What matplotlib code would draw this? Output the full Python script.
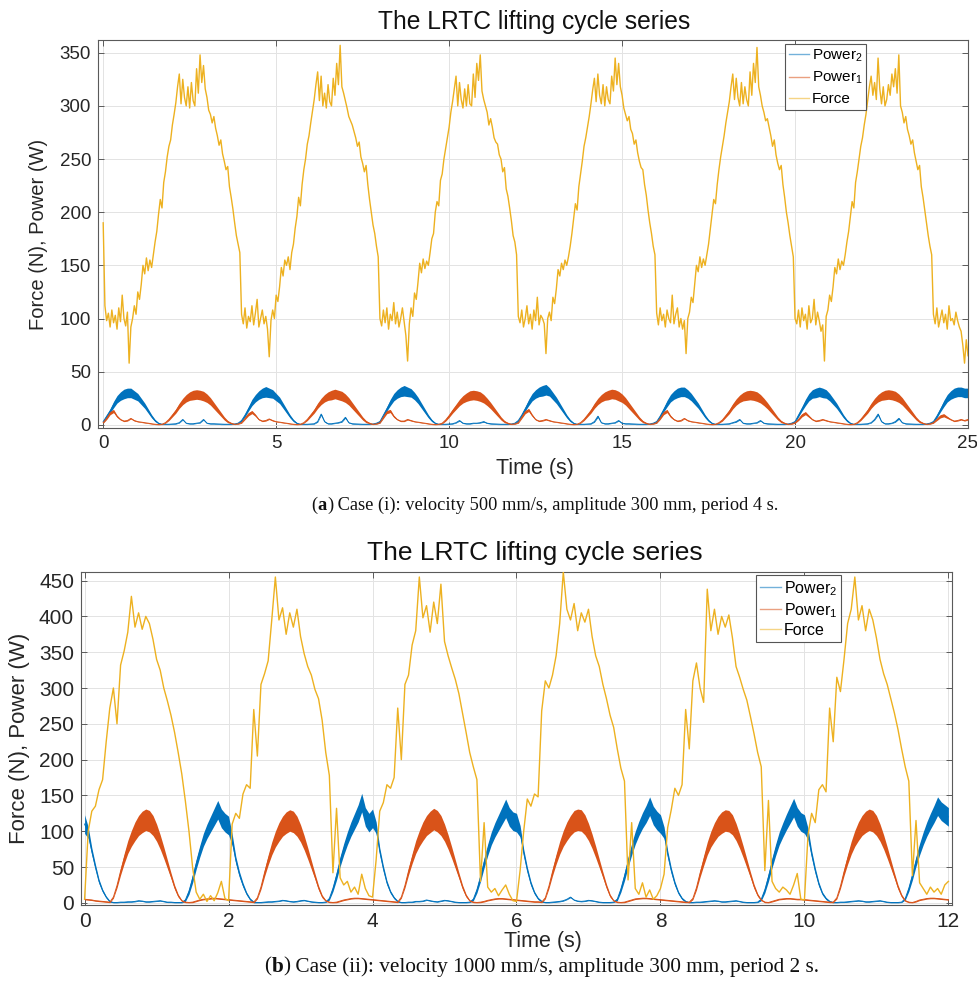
import numpy as np
import matplotlib
matplotlib.use('Agg')
import matplotlib.pyplot as plt
from matplotlib.lines import Line2D

plt.rcParams['font.family'] = ['Liberation Sans', 'DejaVu Sans']
plt.rcParams['mathtext.fontset'] = 'custom'
plt.rcParams['mathtext.rm'] = 'Liberation Sans'
plt.rcParams['mathtext.it'] = 'Liberation Sans'
plt.rcParams['mathtext.default'] = 'regular'

# ---------------- DATA ----------------
title_text = 'The LRTC lifting cycle series'
ylabel_text = 'Force (N), Power (W)'
xlabel_text = 'Time (s)'
legend_labels = ['Power$_2$', 'Power$_1$', 'Force']
caption_a = ('a', 'Case (i): velocity 500 mm/s, amplitude 300 mm, period 4 s.')
caption_b = ('b', 'Case (ii): velocity 1000 mm/s, amplitude 300 mm, period 2 s.')

xticks_a = [0, 5, 10, 15, 20, 25]
yticks_a = [0, 50, 100, 150, 200, 250, 300, 350]
xticks_b = [0, 2, 4, 6, 8, 10, 12]
yticks_b = [0, 50, 100, 150, 200, 250, 300, 350, 400, 450]

# Panel (a): force sampled every 0.05 s from 0 to 25 s
force_a = [
    190, 112, 98, 105, 92, 108, 96, 103, 90, 110, 97, 122, 100, 93, 106, 58, 92, 100, 112, 104, 125, 118,
    132, 150, 142, 157, 145, 155, 148, 160, 172, 182, 198, 212, 204, 228, 238, 252, 262, 268, 282, 292, 303, 318,
    330, 302, 325, 308, 300, 318, 298, 322, 305, 300, 335, 312, 348, 322, 338, 316, 308,
    296, 292, 284, 290, 279, 272, 263, 268, 255, 248, 240, 243, 224, 214, 203, 190, 178, 170, 162,
    104, 95, 110, 91, 102, 97, 112, 94, 105, 118, 92, 100, 108, 95, 102, 90, 64, 98, 108, 100, 122, 116,
    130, 148, 140, 155, 150, 158, 146, 162, 170, 185, 196, 214, 206, 226, 240, 250, 264, 272, 284, 295, 306, 320,
    332, 305, 328, 300, 312, 298, 320, 304, 300, 326, 310, 340, 320, 357, 318, 312, 305,
    298, 290, 286, 282, 276, 270, 262, 266, 252, 246, 238, 244, 226, 212, 200, 188, 180, 168, 158,
    100, 93, 108, 96, 110, 90, 104, 98, 115, 95, 106, 92, 100, 110, 97, 84, 60, 95, 110, 102, 124, 118,
    134, 152, 143, 156, 147, 154, 150, 162, 175, 180, 200, 210, 206, 230, 236, 250, 260, 270, 280, 294, 304, 316,
    328, 300, 322, 306, 298, 316, 300, 320, 302, 300, 330, 308, 340, 324, 348, 314, 306,
    300, 294, 282, 288, 280, 270, 266, 264, 254, 250, 238, 242, 222, 215, 204, 192, 178, 172, 160,
    102, 96, 108, 92, 100, 112, 95, 104, 90, 108, 98, 120, 94, 103, 100, 95, 67, 100, 106, 98, 120, 114,
    128, 146, 140, 152, 146, 155, 150, 158, 168, 180, 194, 208, 202, 224, 236, 248, 262, 270, 280, 290, 302, 315,
    326, 304, 330, 310, 302, 320, 300, 318, 306, 302, 328, 314, 345, 320, 340, 318, 310,
    298, 292, 286, 290, 278, 274, 264, 268, 256, 248, 242, 240, 226, 216, 202, 190, 180, 168, 160,
    105, 94, 110, 98, 104, 92, 108, 100, 96, 122, 95, 104, 110, 92, 100, 90, 98, 67, 100, 106, 120, 115,
    132, 150, 144, 158, 148, 156, 150, 160, 170, 184, 198, 212, 208, 226, 240, 252, 262, 272, 284, 294, 304, 318,
    330, 306, 326, 308, 300, 322, 302, 318, 306, 300, 332, 310, 340, 322, 355, 318, 310,
    300, 294, 286, 288, 280, 272, 262, 268, 254, 246, 240, 244, 226, 214, 200, 190, 178, 168, 158,
    100, 95, 108, 92, 110, 98, 104, 90, 112, 96, 100, 118, 94, 106, 98, 88, 94, 60, 102, 108, 122, 116,
    130, 148, 142, 156, 146, 154, 150, 160, 172, 182, 196, 210, 204, 228, 238, 250, 262, 270, 282, 292, 305, 318,
    328, 310, 322, 306, 345, 316, 302, 318, 300, 306, 320, 310, 330, 318, 335, 312, 348,
    300, 294, 284, 290, 278, 272, 264, 268, 256, 248, 240, 244, 224, 214, 202, 190, 178, 168, 160,
    104, 95, 110, 92, 100, 108, 96, 104, 90, 112, 98, 100, 94, 106, 98, 92, 88, 75, 58, 80, 65,
]

# Panel (a): powers sampled every 0.1 s (centre value and noise half-width)
power2_a = [
    3, 8, 13, 19, 24, 27, 29, 30, 30, 28, 26, 22, 18, 13, 8, 4, 1.5, 0.5, 0.5, 0.5,
    0.8, 1, 2, 5, 1.5, 1, 1, 1.5, 2, 5, 1.5, 1, 1, 0.8, 0.5, 0.5, 0.5, 0.5, 0.8, 1.5,
    4, 9, 15, 21, 25, 28, 30, 31, 30, 29, 26, 23, 18, 13, 8, 4, 1.5, 0.5, 0.5, 0.5,
    0.8, 1, 3, 10, 3, 1, 1, 1.5, 2, 3, 7, 2, 1, 0.8, 0.5, 0.5, 0.5, 0.5, 0.8, 1.5,
    3, 9, 15, 21, 26, 29, 31, 32, 31, 30, 27, 23, 18, 13, 8, 4, 1.5, 0.5, 0.5, 0.5,
    0.8, 1, 2, 4, 1.5, 1, 1, 1.5, 1.5, 2, 3, 1.5, 1, 0.8, 0.5, 0.5, 0.5, 0.5, 0.8, 1.5,
    4, 9, 15, 21, 26, 29, 31, 32, 33, 31, 27, 23, 18, 13, 8, 4, 1.5, 0.5, 0.5, 0.5,
    0.8, 1, 3, 8, 2, 1, 1, 1.5, 2, 4, 1.5, 1, 1, 0.8, 0.5, 0.5, 0.5, 0.5, 0.8, 1.5,
    3, 8, 14, 20, 25, 28, 30, 31, 31, 29, 26, 22, 18, 13, 8, 4, 1.5, 0.5, 0.5, 0.5,
    0.8, 1, 2, 3, 5, 1.5, 1, 1, 1.5, 2, 4, 1.5, 1, 0.8, 0.5, 0.5, 0.5, 0.5, 0.8, 1.5,
    3, 9, 15, 21, 26, 29, 30, 31, 30, 29, 26, 22, 18, 13, 8, 4, 1.5, 0.5, 0.5, 0.5,
    0.8, 1, 2, 5, 10, 3, 1, 1, 1.5, 3, 6, 2, 1, 0.8, 0.5, 0.5, 0.5, 0.5, 0.8, 1.5,
    3, 8, 14, 20, 25, 28, 30, 31, 31, 30, 30,
]
power2_a_noise = [
    1, 1.5, 2, 3, 3.5, 4, 4.5, 4.5, 4.5, 4, 3.5, 3, 2.5, 2, 1.5, 1, 0.5, 0.3, 0.3, 0.3,
    0.3, 0.3, 0.3, 0.5, 0.3, 0.3, 0.3, 0.3, 0.3, 0.5, 0.3, 0.3, 0.3, 0.3, 0.3, 0.3, 0.3, 0.3, 0.3, 0.5,
    1, 1.5, 2, 3, 3.5, 4, 4.5, 5, 4.5, 4, 3.5, 3, 2.5, 2, 1.5, 1, 0.5, 0.3, 0.3, 0.3,
    0.3, 0.3, 0.5, 1, 0.5, 0.3, 0.3, 0.3, 0.3, 0.5, 0.8, 0.3, 0.3, 0.3, 0.3, 0.3, 0.3, 0.3, 0.3, 0.5,
    1, 1.5, 2, 3, 3.5, 4, 4.5, 5, 4.5, 4, 3.5, 3, 2.5, 2, 1.5, 1, 0.5, 0.3, 0.3, 0.3,
    0.3, 0.3, 0.3, 0.5, 0.3, 0.3, 0.3, 0.3, 0.3, 0.3, 0.5, 0.3, 0.3, 0.3, 0.3, 0.3, 0.3, 0.3, 0.3, 0.5,
    1, 1.5, 2, 3, 3.5, 4, 4.5, 5, 5, 4, 3.5, 3, 2.5, 2, 1.5, 1, 0.5, 0.3, 0.3, 0.3,
    0.3, 0.3, 0.5, 1, 0.3, 0.3, 0.3, 0.3, 0.3, 0.5, 0.3, 0.3, 0.3, 0.3, 0.3, 0.3, 0.3, 0.3, 0.3, 0.5,
    1, 1.5, 2, 3, 3.5, 4, 4.5, 4.5, 4.5, 4, 3.5, 3, 2.5, 2, 1.5, 1, 0.5, 0.3, 0.3, 0.3,
    0.3, 0.3, 0.3, 0.5, 0.5, 0.3, 0.3, 0.3, 0.3, 0.3, 0.5, 0.3, 0.3, 0.3, 0.3, 0.3, 0.3, 0.3, 0.3, 0.5,
    1, 1.5, 2, 3, 3.5, 4, 4.5, 4.5, 4.5, 4, 3.5, 3, 2.5, 2, 1.5, 1, 0.5, 0.3, 0.3, 0.3,
    0.3, 0.3, 0.3, 0.5, 1, 0.5, 0.3, 0.3, 0.3, 0.5, 0.8, 0.3, 0.3, 0.3, 0.3, 0.3, 0.3, 0.3, 0.3, 0.5,
    1, 1.5, 2, 3, 3.5, 4, 4.5, 4.5, 4.5, 4.5, 4.5,
]
power1_a = [
    2, 6, 11, 13, 8, 5, 3.5, 4, 6, 4, 3, 2.5, 2, 1.5, 1, 0.5, 0.3, 0.5, 2, 5,
    9, 13, 18, 22, 25, 27, 28, 28.5, 28, 27, 25, 22, 18, 14, 10, 6, 3, 1.5, 0.5, 0.8,
    2, 6, 10, 12, 9, 5, 3.5, 4, 5.5, 4, 3, 2.5, 2, 1.5, 1, 0.5, 0.3, 0.5, 2, 5,
    9, 13, 18, 22, 25, 27, 28, 29, 28, 27, 25, 22, 18, 14, 10, 6, 3, 1.5, 0.5, 0.8,
    2, 7, 12, 13, 8, 5, 3.5, 3.5, 5, 4, 3, 2.5, 2, 1.5, 1, 0.5, 0.3, 0.5, 1.5, 4.5,
    8.5, 13, 17, 21, 24, 26, 27.5, 28, 27.5, 26.5, 24.5, 21.5, 18, 14, 10, 6, 3, 1.5, 0.5, 0.8,
    2, 7, 12, 14, 9, 5, 3.5, 4, 5, 4, 3, 2.5, 2, 1.5, 1, 0.5, 0.3, 0.5, 2, 5,
    9, 13, 18, 22, 25, 27, 28, 29, 28.5, 27, 25, 22, 18, 14, 10, 6, 3, 1.5, 0.5, 0.8,
    2, 6, 11, 13, 8, 5, 3.5, 4, 6, 4, 3, 2.5, 2, 1.5, 1, 0.5, 0.3, 0.5, 2, 4.5,
    8.5, 12.5, 17.5, 21.5, 24.5, 26.5, 27.5, 28, 27.5, 26.5, 24.5, 21.5, 18, 14, 10, 6, 3, 1.5, 0.5, 0.8,
    2, 5, 9, 11, 8, 5, 3.5, 4, 5, 4, 3, 2.5, 2, 1.5, 1, 0.5, 0.3, 0.5, 2, 5,
    9, 13, 18, 22, 25, 27, 28, 28.5, 28, 27, 25, 22, 18, 14, 10, 6, 3, 1.5, 0.5, 0.8,
    2, 5, 8, 9, 7, 5, 3.5, 4, 5, 4, 5,
]
power1_a_noise = [
    0.5, 1, 1.5, 1.5, 1, 0.5, 0.5, 0.5, 0.5, 0.5, 0.3, 0.3, 0.3, 0.3, 0.3, 0.3, 0.3, 0.3, 0.5, 1,
    1.5, 2, 2.5, 3, 3.5, 4, 4.5, 4.5, 4.5, 4.5, 4, 3.5, 3, 2.5, 2, 1.5, 1, 0.5, 0.3, 0.3,
    0.5, 1, 1.5, 1.5, 1, 0.5, 0.5, 0.5, 0.5, 0.5, 0.3, 0.3, 0.3, 0.3, 0.3, 0.3, 0.3, 0.3, 0.5, 1,
    1.5, 2, 2.5, 3, 3.5, 4, 4.5, 4.5, 4.5, 4.5, 4, 3.5, 3, 2.5, 2, 1.5, 1, 0.5, 0.3, 0.3,
    0.5, 1, 1.5, 1.5, 1, 0.5, 0.5, 0.5, 0.5, 0.5, 0.3, 0.3, 0.3, 0.3, 0.3, 0.3, 0.3, 0.3, 0.5, 1,
    1.5, 2, 2.5, 3, 3.5, 4, 4.5, 4.5, 4.5, 4.5, 4, 3.5, 3, 2.5, 2, 1.5, 1, 0.5, 0.3, 0.3,
    0.5, 1, 1.5, 1.5, 1, 0.5, 0.5, 0.5, 0.5, 0.5, 0.3, 0.3, 0.3, 0.3, 0.3, 0.3, 0.3, 0.3, 0.5, 1,
    1.5, 2, 2.5, 3, 3.5, 4, 4.5, 4.5, 4.5, 4.5, 4, 3.5, 3, 2.5, 2, 1.5, 1, 0.5, 0.3, 0.3,
    0.5, 1, 1.5, 1.5, 1, 0.5, 0.5, 0.5, 0.5, 0.5, 0.3, 0.3, 0.3, 0.3, 0.3, 0.3, 0.3, 0.3, 0.5, 1,
    1.5, 2, 2.5, 3, 3.5, 4, 4.5, 4.5, 4.5, 4.5, 4, 3.5, 3, 2.5, 2, 1.5, 1, 0.5, 0.3, 0.3,
    0.5, 1, 1.5, 1.5, 1, 0.5, 0.5, 0.5, 0.5, 0.5, 0.3, 0.3, 0.3, 0.3, 0.3, 0.3, 0.3, 0.3, 0.5, 1,
    1.5, 2, 2.5, 3, 3.5, 4, 4.5, 4.5, 4.5, 4.5, 4, 3.5, 3, 2.5, 2, 1.5, 1, 0.5, 0.3, 0.3,
    0.5, 1, 1.5, 1.5, 1, 0.5, 0.5, 0.5, 0.5, 0.5, 0.5,
]

# Panel (b): all series sampled every 0.05 s from 0 to 12 s
force_b = [
    5, 100, 128, 135, 158, 172, 225, 272, 300, 250, 332, 352, 378, 428, 385, 405, 382, 400, 390, 368,
    340, 325, 300, 282, 262, 238, 210, 180, 142, 100, 50, 15, 5, 12, 2, 10, 3, 14, 30, 6,
    3, 110, 125, 118, 152, 165, 160, 270, 205, 305, 320, 338, 395, 455, 395, 412, 375, 405, 385, 410,
    372, 348, 330, 318, 298, 285, 255, 210, 178, 42, 132, 35, 25, 30, 15, 22, 12, 40, 20, 10,
    8, 60, 128, 140, 165, 160, 175, 272, 200, 305, 318, 360, 380, 455, 398, 415, 378, 420, 390, 445,
    365, 345, 328, 312, 292, 265, 238, 210, 190, 172, 30, 112, 22, 15, 20, 10, 18, 25, 12, 3,
    2, 45, 100, 145, 135, 152, 148, 268, 310, 300, 318, 345, 390, 462, 410, 395, 418, 380, 405, 392,
    410, 372, 345, 330, 305, 285, 262, 245, 215, 188, 170, 32, 112, 20, 12, 28, 8, 18, 5, 10,
    20, 40, 105, 130, 160, 150, 165, 270, 215, 310, 335, 300, 280, 438, 380, 410, 375, 400, 385, 402,
    370, 330, 315, 298, 283, 260, 236, 210, 190, 45, 143, 30, 20, 15, 22, 18, 12, 25, 41, 5,
    4, 95, 125, 112, 158, 165, 155, 272, 225, 315, 295, 340, 390, 410, 455, 395, 415, 380, 410, 395,
    370, 340, 320, 305, 285, 265, 242, 215, 190, 170, 38, 115, 28, 20, 12, 22, 15, 20, 12, 25,
    30,
]
power2_b = [
    110, 98, 72, 50, 30, 17, 8, 2, 0.5, 0.5, 1, 1, 1.5, 1.5, 2, 3, 2.5, 1.5, 1.5, 2,
    2.5, 3, 2, 1, 1, 0.5, 0.5, 0.5, 4, 16, 34, 54, 72, 88, 100, 110, 120, 130, 118, 112,
    108, 88, 60, 40, 25, 13, 5, 1, 0.5, 0.5, 1, 1.5, 1.5, 2, 2.5, 3.5, 3, 2, 1.5, 2,
    3, 3.5, 2.5, 1.5, 1, 0.5, 0.5, 1, 6, 20, 38, 58, 75, 90, 103, 114, 125, 140, 120, 112,
    118, 105, 72, 48, 28, 15, 7, 2, 0.5, 0.5, 1, 1, 2, 2, 2.5, 4, 3, 2, 1.5, 2.5,
    3.5, 3, 2, 1, 0.5, 0.5, 0.5, 1, 5, 18, 36, 56, 74, 90, 102, 112, 122, 132, 120, 114,
    112, 100, 70, 46, 27, 14, 6, 2, 0.5, 0.5, 1, 1.5, 2, 3, 5, 8, 4, 2.5, 2, 2.5,
    3.5, 3, 2, 1, 0.5, 0.5, 0.5, 1, 5, 19, 37, 57, 75, 91, 104, 115, 124, 135, 122, 115,
    110, 98, 68, 45, 27, 14, 6, 2, 0.5, 0.5, 1, 1, 1.5, 2, 2.5, 3, 2.5, 1.5, 1.5, 2,
    2.5, 3, 2, 1, 0.5, 0.5, 0.5, 1, 5, 18, 36, 56, 74, 90, 102, 113, 123, 133, 120, 113,
    110, 96, 68, 45, 26, 13, 6, 2, 0.5, 0.5, 1, 1, 1.5, 2, 2.5, 3, 2.5, 1.5, 1.5, 2,
    2.5, 3, 2, 1, 0.5, 0.5, 0.5, 1, 6, 20, 38, 58, 75, 90, 103, 114, 124, 135, 128, 124,
    120,
]
power2_b_noise = [
    13, 8, 5, 4, 3, 2, 1.5, 1, 0.6, 0.6, 0.6, 0.6, 0.6, 0.6, 0.6, 0.6, 0.6, 0.6, 0.6, 0.6,
    0.6, 0.6, 0.6, 0.6, 0.6, 0.6, 0.6, 0.6, 2, 4, 6, 7, 8, 9, 10, 11, 12, 13, 13, 13,
    13, 8, 5, 4, 3, 2, 1.5, 1, 0.6, 0.6, 0.6, 0.6, 0.6, 0.6, 0.6, 0.6, 0.6, 0.6, 0.6, 0.6,
    0.6, 0.6, 0.6, 0.6, 0.6, 0.6, 0.6, 0.6, 2, 4, 6, 7, 8, 9, 10, 11, 12, 13, 13, 13,
    13, 8, 5, 4, 3, 2, 1.5, 1, 0.6, 0.6, 0.6, 0.6, 0.6, 0.6, 0.6, 0.6, 0.6, 0.6, 0.6, 0.6,
    0.6, 0.6, 0.6, 0.6, 0.6, 0.6, 0.6, 0.6, 2, 4, 6, 7, 8, 9, 10, 11, 12, 13, 13, 13,
    13, 8, 5, 4, 3, 2, 1.5, 1, 0.6, 0.6, 0.6, 0.6, 0.6, 0.6, 0.6, 0.8, 0.6, 0.6, 0.6, 0.6,
    0.6, 0.6, 0.6, 0.6, 0.6, 0.6, 0.6, 0.6, 2, 4, 6, 7, 8, 9, 10, 11, 12, 13, 13, 13,
    13, 8, 5, 4, 3, 2, 1.5, 1, 0.6, 0.6, 0.6, 0.6, 0.6, 0.6, 0.6, 0.6, 0.6, 0.6, 0.6, 0.6,
    0.6, 0.6, 0.6, 0.6, 0.6, 0.6, 0.6, 0.6, 2, 4, 6, 7, 8, 9, 10, 11, 12, 13, 13, 13,
    13, 8, 5, 4, 3, 2, 1.5, 1, 0.6, 0.6, 0.6, 0.6, 0.6, 0.6, 0.6, 0.6, 0.6, 0.6, 0.6, 0.6,
    0.6, 0.6, 0.6, 0.6, 0.6, 0.6, 0.6, 0.6, 2, 4, 6, 7, 8, 9, 10, 11, 12, 13, 13, 13,
    13,
]
power1_b = [
    5, 4.5, 4, 3, 2.5, 2, 1.5, 1, 8, 24, 44, 62, 78, 90, 100, 108, 113, 116, 114, 108,
    98, 85, 70, 54, 38, 22, 10, 3, 1, 0.5, 1, 2.5, 4, 5, 5.5, 6, 6.5, 6, 5.5, 5,
    4.5, 4, 3.5, 3, 2.5, 2, 1.5, 1, 7, 22, 42, 60, 76, 89, 99, 107, 112, 115, 113, 107,
    97, 84, 69, 53, 37, 21, 9, 3, 1, 0.5, 1, 2.5, 4, 5, 6, 6.5, 6.5, 6, 5.5, 5,
    4.5, 4, 3.5, 3, 2.5, 2, 1.5, 1, 8, 24, 44, 62, 78, 90, 100, 108, 113, 117, 114, 108,
    98, 85, 70, 54, 38, 22, 10, 3, 1, 0.5, 1, 2, 3.5, 4.5, 5.5, 6, 6, 5.5, 5, 4.5,
    4, 3.5, 3, 2.5, 2, 1.5, 1.5, 1, 7, 23, 43, 61, 77, 90, 100, 108, 114, 116, 115, 109,
    99, 86, 71, 55, 39, 23, 10, 3, 1, 0.5, 1, 2.5, 4, 5.5, 6, 6.5, 6.5, 6, 5.5, 5,
    4.5, 4, 3.5, 3, 2.5, 2, 1.5, 1, 1, 6, 21, 41, 59, 76, 89, 99, 107, 112, 115, 114,
    109, 99, 86, 71, 55, 39, 23, 11, 4, 1, 0.5, 2, 3.5, 5, 5.5, 6, 6, 5.5, 5, 5,
    4.5, 4, 3.5, 3, 2.5, 2, 1.5, 1, 1, 7, 23, 43, 61, 77, 90, 100, 108, 113, 116, 114,
    108, 98, 85, 70, 54, 38, 22, 10, 3, 1, 0.5, 2, 4, 5, 6, 6.5, 6.5, 6, 5.5, 5,
    4.5,
]
power1_b_noise = [
    0.8, 0.8, 0.8, 0.8, 0.8, 0.8, 0.8, 0.8, 1.5, 3, 5, 7, 9, 11, 13, 14, 15, 15, 15, 14,
    12, 10, 8, 6, 4, 3, 2, 1, 0.8, 0.8, 0.8, 0.8, 0.8, 0.8, 0.8, 0.8, 0.8, 0.8, 0.8, 0.8,
    0.8, 0.8, 0.8, 0.8, 0.8, 0.8, 0.8, 0.8, 1.5, 3, 5, 7, 9, 11, 13, 14, 15, 15, 15, 14,
    12, 10, 8, 6, 4, 3, 2, 1, 0.8, 0.8, 0.8, 0.8, 0.8, 0.8, 0.8, 0.8, 0.8, 0.8, 0.8, 0.8,
    0.8, 0.8, 0.8, 0.8, 0.8, 0.8, 0.8, 0.8, 1.5, 3, 5, 7, 9, 11, 13, 14, 15, 15, 15, 14,
    12, 10, 8, 6, 4, 3, 2, 1, 0.8, 0.8, 0.8, 0.8, 0.8, 0.8, 0.8, 0.8, 0.8, 0.8, 0.8, 0.8,
    0.8, 0.8, 0.8, 0.8, 0.8, 0.8, 0.8, 0.8, 1.5, 3, 5, 7, 9, 11, 13, 14, 15, 15, 15, 14,
    12, 10, 8, 6, 4, 3, 2, 1, 0.8, 0.8, 0.8, 0.8, 0.8, 0.8, 0.8, 0.8, 0.8, 0.8, 0.8, 0.8,
    0.8, 0.8, 0.8, 0.8, 0.8, 0.8, 0.8, 0.8, 0.8, 1.5, 3, 5, 7, 9, 11, 13, 14, 15, 15, 15,
    14, 12, 10, 8, 6, 4, 3, 2, 1, 0.8, 0.8, 0.8, 0.8, 0.8, 0.8, 0.8, 0.8, 0.8, 0.8, 0.8,
    0.8, 0.8, 0.8, 0.8, 0.8, 0.8, 0.8, 0.8, 0.8, 1.5, 3, 5, 7, 9, 11, 13, 14, 15, 15, 15,
    14, 12, 10, 8, 6, 4, 3, 2, 1, 0.8, 0.8, 0.8, 0.8, 0.8, 0.8, 0.8, 0.8, 0.8, 0.8, 0.8,
    0.8,
]

# ---------------- STYLE ----------------
C_P2 = '#0072BD'
C_P1 = '#D95319'
C_F = '#EDB120'
AX_COL = '#5a5a5a'
GRID_COL = '#e3e3e3'

W, H = 978, 985
fig = plt.figure(figsize=(W / 100, H / 100), dpi=100)
fig.patch.set_facecolor('white')


def draw_panel(ax, t_end, force, p2, p2n, p1, p1n, xticks, yticks, xlim, ylim,
               leg_anchor, tick_size, leg_size, leg_spacing):
    tf = np.linspace(0, t_end, len(force))
    tp2 = np.linspace(0, t_end, len(p2))
    tp1 = np.linspace(0, t_end, len(p1))
    p2 = np.array(p2, float); p2n = np.array(p2n, float)
    p1 = np.array(p1, float); p1n = np.array(p1n, float)
    ax.fill_between(tp2, np.maximum(p2 - p2n, 0), p2 + p2n, color=C_P2, lw=0, zorder=2)
    ax.plot(tp2, p2, color=C_P2, lw=0.7, zorder=2)
    ax.fill_between(tp1, np.maximum(p1 - p1n, 0), p1 + p1n, color=C_P1, lw=0, zorder=3)
    ax.plot(tp1, p1, color=C_P1, lw=0.7, zorder=3)
    ax.plot(tf, force, color=C_F, lw=1.0, zorder=4)
    ax.set_xlim(*xlim)
    ax.set_ylim(*ylim)
    ax.set_xticks(xticks)
    ax.set_yticks(yticks)
    ax.grid(True, color=GRID_COL, lw=0.7, zorder=0)
    ax.set_axisbelow(True)
    for sp in ax.spines.values():
        sp.set_color(AX_COL)
        sp.set_linewidth(0.8)
    ax.tick_params(direction='in', top=True, right=True, length=4, width=0.7,
                   colors=AX_COL, labelcolor='#262626', labelsize=tick_size, pad=5)
    handles = [Line2D([], [], color=c, lw=1.0, alpha=0.55) for c in (C_P2, C_P1, C_F)]
    leg = ax.legend(handles, legend_labels, loc='upper right', bbox_to_anchor=leg_anchor,
                    borderaxespad=0, fontsize=leg_size, frameon=True, fancybox=False,
                    framealpha=1, edgecolor='#555555', handlelength=1.3,
                    handletextpad=0.2, borderpad=0.25, labelspacing=leg_spacing)
    leg.get_frame().set_linewidth(0.8)
    leg.set_zorder(10)


ax1 = fig.add_axes([98 / W, 1 - 428 / H, 870 / W, 388 / H])
draw_panel(ax1, 25, force_a, power2_a, power2_a_noise, power1_a, power1_a_noise,
           xticks_a, yticks_a, (-0.15, 25.0), (-3, 362), (0.883, 0.99), 13.5, 11, 0.38)
ax1.set_xlabel(xlabel_text, fontsize=15.5, color='#262626')
ax1.set_ylabel(ylabel_text, fontsize=14.5, color='#262626')
ax1.xaxis.set_label_coords(0.502, -0.078)
ax1.yaxis.set_label_coords(-0.057, 0.5)
fig.text(534 / W, 1 - 22 / H, title_text, ha='center', va='center', fontsize=17.7, color='#111111')

ax2 = fig.add_axes([81 / W, 1 - 905 / H, 871 / W, 333 / H])
draw_panel(ax2, 12, force_b, power2_b, power2_b_noise, power1_b, power1_b_noise,
           xticks_b, yticks_b, (-0.05, 12.05), (-3, 462), (0.873, 0.991), 15, 11.5, 0.2)
ax2.set_xlabel(xlabel_text, fontsize=15.5, color='#262626')
ax2.set_ylabel(ylabel_text, fontsize=16, color='#262626')
ax2.xaxis.set_label_coords(0.53, -0.078)
ax2.yaxis.set_label_coords(-0.058, 0.5)
fig.text(535 / W, 1 - 553 / H, title_text, ha='center', va='center', fontsize=19, color='#111111')


def caption(y_px, center_px, label, text, size):
    renderer = fig.canvas.get_renderer()
    parts = [('(', 'normal'), (label, 'bold'), (')', 'normal'), (' ' + text, 'normal')]
    objs = [fig.text(0, 1 - y_px / H, s, fontsize=size, family=['Liberation Serif', 'DejaVu Serif'],
                     weight=w, va='center', ha='left', color='#111111') for s, w in parts]
    widths = [o.get_window_extent(renderer).width for o in objs]
    x = center_px - sum(widths) / 2
    for o, w in zip(objs, widths):
        o.set_x(x / W)
        x += w


caption(505, 545, caption_a[0], caption_a[1], 13.2)
caption(967, 542, caption_b[0], caption_b[1], 15.3)

fig.savefig('out.png', dpi=100, facecolor='white')
